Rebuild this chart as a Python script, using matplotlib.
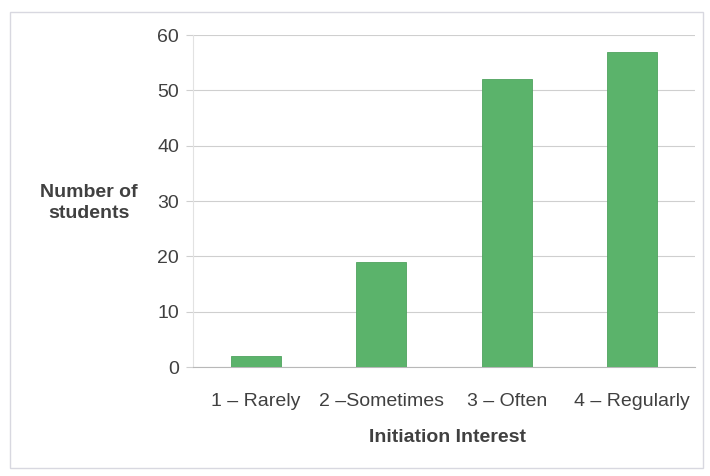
import matplotlib
matplotlib.use("Agg")
import matplotlib.pyplot as plt
from matplotlib.patches import Rectangle

categories = ["1 \u2013 Rarely", "2 \u2013Sometimes", "3 \u2013 Often", "4 \u2013 Regularly"]
students = [2, 19, 52, 57]
yticks = [0, 10, 20, 30, 40, 50, 60]

plt.rcParams["font.family"] = ["Liberation Sans", "DejaVu Sans"]

fig = plt.figure(figsize=(7.1, 4.76), dpi=100)
ax = fig.add_axes([193 / 710, 1 - 367 / 476, (695 - 193) / 710, (367 - 35) / 476])

xs = range(len(categories))
ax.bar(xs, students, width=0.4, color="#5bb36b", edgecolor="#4fa35e", linewidth=0.6, zorder=3)

ax.set_xlim(-0.5, 3.5)
ax.set_ylim(0, 60)
ax.set_yticks(yticks)
ax.set_xticks(list(xs))
ax.set_xticklabels(categories)
ax.grid(axis="y", color="#cfcfcf", linewidth=0.8, zorder=0)

for s in ["top", "right"]:
    ax.spines[s].set_visible(False)
ax.spines["left"].set_color("#e2e2e2")
ax.spines["bottom"].set_color("#b8b8b8")

ax.tick_params(axis="y", length=5, color="#cfcfcf", pad=5, labelsize=14, labelcolor="#404040")
ax.tick_params(axis="x", length=0, pad=19, labelsize=14, labelcolor="#404040")

fig.text(89 / 710, 1 - 203 / 476, "Number of\nstudents", ha="center", va="center",
         fontsize=14, fontweight="bold", color="#404040", linespacing=1.35)
fig.text(447 / 710, 1 - 438 / 476, "Initiation Interest", ha="center", va="center",
         fontsize=14, fontweight="bold", color="#404040")

fig.patches.append(Rectangle((10 / 710, 1 - 468 / 476), 693 / 710, 456 / 476,
                             transform=fig.transFigure, fill=False, edgecolor="#d8d8e0", linewidth=1))

fig.savefig("out.png", dpi=100)
